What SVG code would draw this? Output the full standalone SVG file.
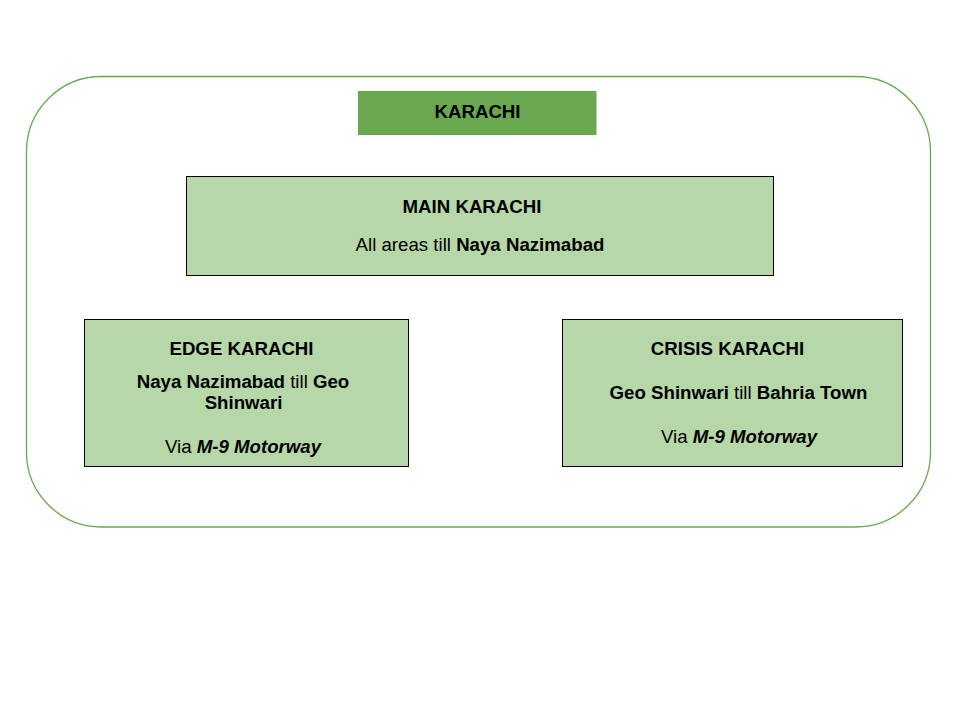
<svg xmlns="http://www.w3.org/2000/svg" width="960" height="720" viewBox="0 0 960 720">
<style>
text{font-family:"Liberation Sans",Arial,sans-serif;font-size:18.67px;fill:#000;text-anchor:middle}
.b{font-weight:bold}
.bi{font-weight:bold;font-style:italic}
.box{fill:#b6d7a8;stroke:#000;stroke-width:1}
</style>
<rect width="960" height="720" fill="#fff"/>
<g id="frame"><rect x="26.5" y="76.5" width="904" height="450.5" rx="75" ry="75" fill="none" stroke="#6aa84f" stroke-width="1.3"/></g>
<g id="karachi"><rect x="358" y="91" width="238.5" height="44" fill="#6aa84f"/><text x="477.5" y="118" class="b">KARACHI</text></g>
<g id="main"><rect class="box" x="186.5" y="176.5" width="587" height="99"/>
<text x="472" y="213" class="b">MAIN KARACHI</text>
<text x="480" y="251">All areas till <tspan class="b">Naya Nazimabad</tspan></text></g>
<g id="edge"><rect class="box" x="84.5" y="319.5" width="324" height="147"/>
<text x="241.5" y="355" class="b">EDGE KARACHI</text>
<text x="243" y="388"><tspan class="b">Naya Nazimabad</tspan> till <tspan class="b">Geo</tspan></text>
<text x="243.5" y="409" class="b">Shinwari</text>
<text x="243" y="453">Via <tspan class="bi">M-9 Motorway</tspan></text></g>
<g id="crisis"><rect class="box" x="562.5" y="319.5" width="340" height="147"/>
<text x="727.5" y="355" class="b">CRISIS KARACHI</text>
<text x="738.5" y="399"><tspan class="b">Geo Shinwari</tspan> till <tspan class="b">Bahria Town</tspan></text>
<text x="739" y="443">Via <tspan class="bi">M-9 Motorway</tspan></text></g>
<g id="connectors"></g>
</svg>
